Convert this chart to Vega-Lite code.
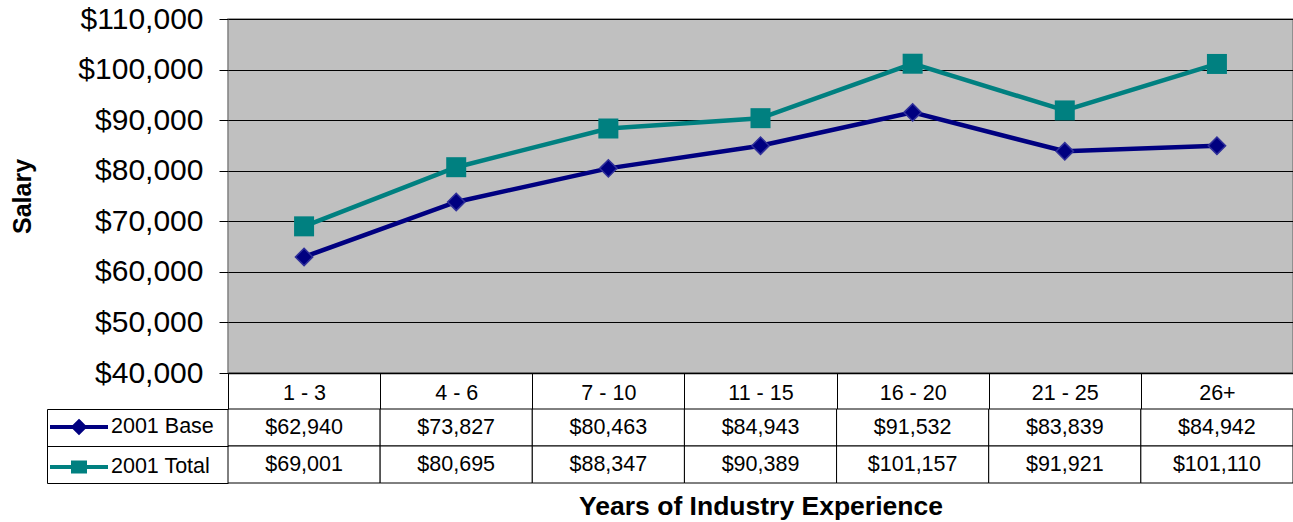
{
  "$schema": "https://vega.github.io/schema/vega-lite/v6.json",
  "padding": {"left": 10, "top": 3, "right": 0, "bottom": 0},
  "background": "white",
  "datasets": {
    "d": [
      {"cat": "1 - 3", "series": "2001 Base", "value": 62940},
      {"cat": "4 - 6", "series": "2001 Base", "value": 73827},
      {"cat": "7 - 10", "series": "2001 Base", "value": 80463},
      {"cat": "11 - 15", "series": "2001 Base", "value": 84943},
      {"cat": "16 - 20", "series": "2001 Base", "value": 91532},
      {"cat": "21 - 25", "series": "2001 Base", "value": 83839},
      {"cat": "26+", "series": "2001 Base", "value": 84942},
      {"cat": "1 - 3", "series": "2001 Total", "value": 69001},
      {"cat": "4 - 6", "series": "2001 Total", "value": 80695},
      {"cat": "7 - 10", "series": "2001 Total", "value": 88347},
      {"cat": "11 - 15", "series": "2001 Total", "value": 90389},
      {"cat": "16 - 20", "series": "2001 Total", "value": 101157},
      {"cat": "21 - 25", "series": "2001 Total", "value": 91921},
      {"cat": "26+", "series": "2001 Total", "value": 101110}
    ]
  },
  "config": {
    "font": "Liberation Sans",
    "axis": {"labelColor": "#000", "titleColor": "#000", "tickColor": "#000", "domainColor": "#000", "gridColor": "#000"},
    "view": {"stroke": null}
  },
  "bounds": "flush",
  "spacing": 36,
  "resolve": {
    "scale": {"shape": "independent", "fill": "independent", "stroke": "independent", "color": "independent"},
    "legend": {"shape": "independent", "fill": "independent", "stroke": "independent", "color": "independent"}
  },
  "vconcat": [
    {
      "width": 1065,
      "height": 354,
      "data": {"name": "d"},
      "view": {"fill": "#C0C0C0", "stroke": "#808080", "strokeWidth": 1.5},
      "encoding": {
        "x": {
          "field": "cat", "type": "ordinal",
          "sort": ["1 - 3", "4 - 6", "7 - 10", "11 - 15", "16 - 20", "21 - 25", "26+"],
          "scale": {"type": "band", "paddingInner": 0, "paddingOuter": 0},
          "bandPosition": 0.5,
          "axis": {"title": null, "labelAngle": 0, "labelFontSize": 21.5, "tickBand": "extent", "tickSize": 36, "labelPadding": -27, "grid": false, "domainColor": "#000", "domainWidth": 1.5}
        },
        "y": {
          "field": "value", "type": "quantitative",
          "scale": {"domain": [40000, 110000], "nice": false, "zero": false},
          "axis": {"title": "Salary", "values": [40000, 50000, 60000, 70000, 80000, 90000, 100000, 110000], "format": "$,.0f", "labelFontSize": 30, "tickSize": 9, "labelPadding": 16, "titleFontSize": 25, "titleFontWeight": "bold", "titlePadding": 42, "grid": true, "gridColor": "#000", "domain": false}
        }
      },
      "layer": [
        {
          "mark": {"type": "line", "strokeWidth": 4.5},
          "encoding": {
            "color": {"field": "series", "type": "nominal", "scale": {"domain": ["2001 Base", "2001 Total"], "range": ["#000080", "#008080"]}, "legend": null}
          }
        },
        {
          "transform": [{"filter": "datum.series === '2001 Base'"}],
          "mark": {"type": "point", "shape": "diamond", "filled": true, "size": 300, "fill": "#000080", "stroke": "#30309a", "strokeWidth": 1.5, "opacity": 1}
        },
        {
          "transform": [{"filter": "datum.series === '2001 Total'"}],
          "mark": {"type": "point", "shape": "square", "filled": true, "size": 400, "fill": "#008080", "opacity": 1}
        }
      ]
    },
    {
      "width": 1065,
      "height": 74,
      "data": {"name": "d"},
      "encoding": {
        "x": {
          "field": "cat", "type": "ordinal",
          "sort": ["1 - 3", "4 - 6", "7 - 10", "11 - 15", "16 - 20", "21 - 25", "26+"],
          "scale": {"type": "band", "paddingInner": 0, "paddingOuter": 0},
          "axis": {"title": "Years of Industry Experience", "labels": false, "ticks": false, "domain": false, "titleFontSize": 26.5, "titleFontWeight": "bold", "titlePadding": 10}
        },
        "y": {
          "field": "series", "type": "nominal",
          "scale": {"type": "band", "domain": ["2001 Base", "2001 Total"], "paddingInner": 0, "paddingOuter": 0},
          "axis": {"title": null, "labels": false, "offset": 181, "tickBand": "extent", "tickSize": -181, "domainColor": "#000", "tickColor": "#000"}
        }
      },
      "layer": [
        {"mark": {"type": "rect", "fill": "white", "stroke": "#000", "strokeWidth": 1}},
        {
          "mark": {"type": "text", "fontSize": 21.5, "baseline": "middle", "color": "#000"},
          "encoding": {"text": {"field": "value", "type": "quantitative", "format": "$,.0f"}}
        },
        {
          "mark": {"type": "point", "opacity": 0, "filled": true},
          "encoding": {
            "shape": {"field": "series", "type": "nominal", "scale": {"domain": ["2001 Base", "2001 Total"], "range": ["M-2.9,0H2.9M0,-0.55L0.55,0L0,0.55L-0.55,0Z", "M-2.9,0H2.9M-0.6,-0.45H0.6V0.45H-0.6Z"]},
              "legend": {"orient": "none", "legendX": -161, "legendY": 6, "title": null, "symbolSize": 400, "symbolStrokeWidth": 4, "labelFontSize": 21.5, "labelOffset": 20, "rowPadding": 13, "symbolOpacity": 1, "padding": 0, "labelColor": "#000"}},
            "fill": {"field": "series", "type": "nominal", "scale": {"domain": ["2001 Base", "2001 Total"], "range": ["#000080", "#008080"]},
              "legend": {"orient": "none", "legendX": -161, "legendY": 6, "title": null, "symbolSize": 400, "symbolStrokeWidth": 4, "labelFontSize": 21.5, "labelOffset": 20, "rowPadding": 13, "symbolOpacity": 1, "padding": 0, "labelColor": "#000"}},
            "stroke": {"field": "series", "type": "nominal", "scale": {"domain": ["2001 Base", "2001 Total"], "range": ["#000080", "#008080"]},
              "legend": {"orient": "none", "legendX": -161, "legendY": 6, "title": null, "symbolSize": 400, "symbolStrokeWidth": 4, "labelFontSize": 21.5, "labelOffset": 20, "rowPadding": 13, "symbolOpacity": 1, "padding": 0, "labelColor": "#000"}}
          }
        }
      ]
    }
  ]
}
